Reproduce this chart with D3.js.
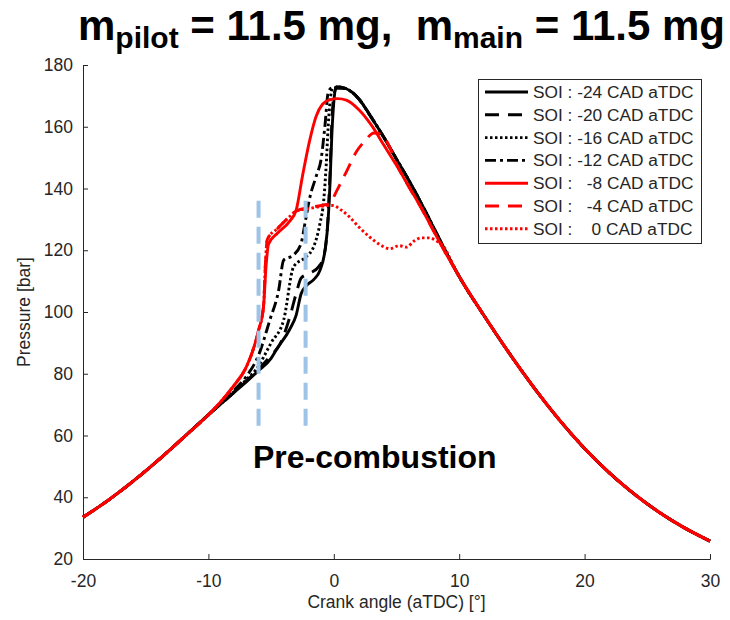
<!DOCTYPE html>
<html>
<head>
<meta charset="utf-8">
<script src="https://cdn.jsdelivr.net/npm/d3@7"></script>
<style>
  body { margin: 0; background: #fff; }
  svg text { font-family: "Liberation Sans", Arial, sans-serif; }
</style>
</head>
<body>
<svg id="chart" width="730" height="620"></svg>
<script>
// Shared compression and expansion parts (all injection timings coincide there)
const compAngle = [-20, -18, -16, -14, -12, -10];
const compP = [33.5, 39.0, 45.2, 52.0, 59.3, 66.7];
const expAngle = [10, 12, 14, 16, 18, 20, 22, 24, 26, 28, 30];
const expP = [111.5, 98.7, 86.6, 75.3, 65.0, 55.8, 47.8, 40.9, 35.0, 30.0, 25.8];

// Black tail after the peak, shared by the four black curves
const blackTailAngle = [1, 2, 3, 4, 5, 6, 7, 8, 9];
const blackTailP = [172.3, 169, 163, 156.5, 149.5, 142.5, 135, 127, 119];

// Combustion region per start of injection
const soi24Angle = [-9, -8, -7, -6, -5, -4.5, -3.5, -3, -2.6, -2.2, -1.6, -1.1, -0.7, -0.45, -0.3, -0.15, 0, 0.2];
const soi24P = [70.2, 73.8, 77.3, 81, 85, 88.3, 94.5, 99, 106, 108.5, 110.5, 113.5, 120, 130, 142, 158, 168, 173];

const soi20Angle = [-9, -8, -7, -6, -5, -4.3, -3.5, -3, -2.6, -1.9, -1.2, -0.8, -0.5, -0.3, -0.15, 0, 0.2];
const soi20P = [70.2, 73.8, 77.5, 81.5, 86, 89.5, 98.5, 106, 111, 112.6, 114.7, 118, 128, 145, 162, 170, 172.5];

const soi16Angle = [-9, -8, -7, -6, -5.6, -5, -4, -3.2, -2.2, -1.6, -1.1, -0.8, -0.6, -0.45, -0.3, -0.1, 0.5];
const soi16P = [70.3, 74, 78, 82.5, 85.4, 90, 97.4, 114.7, 117.9, 121.2, 128.7, 136.3, 148, 160, 168, 172.5, 172.8];

const soi12Angle = [-9, -8, -7, -6, -5.1, -4.4, -4, -3.2, -2.6, -2.3, -1.9, -1.4, -1, -0.7, -0.45, -0.2, 0.5];
const soi12P = [70.5, 74.5, 79, 86, 97.4, 107, 116.8, 118.5, 122.3, 128.7, 137.3, 144, 149.8, 160.6, 171, 172.5, 172.8];

const soi8Angle = [-9, -8, -7, -6.5, -6, -5.6, -5.4, -5.2, -4.5, -3.5, -3, -2.5, -1.9, -1.4, -0.9, -0.3, 0.3, 1, 2, 3, 4, 5, 6, 7, 8, 9];
const soi8P = [71, 76, 82, 87, 94, 102, 115, 122, 125.5, 129.5, 133, 144, 156, 163.5, 167.3, 168.8, 169.1, 168.6, 165.5, 160.5, 154, 147.5, 140.5, 133.5, 126, 118.5];

const soi4Angle = [-9, -8, -7, -6.5, -6, -5.6, -5.45, -5.3, -4.5, -3.5, -3, -2, -1, -0.3, 0.2, 1, 1.8, 2.5, 3.2, 3.8, 4.5, 5, 6, 7, 8, 9];
const soi4P = [71, 76, 82, 87, 94, 102, 116, 123.5, 127, 131, 132.7, 133.8, 134.5, 135.2, 139, 145.4, 151.9, 155.5, 158, 157.5, 153, 148, 140.5, 133.5, 126, 118.5];

const soi0Angle = [-9, -8, -7, -6.5, -6, -5.6, -5.45, -5.3, -4.5, -3.5, -3, -2, -1, -0.1, 0.6, 1.2, 2, 2.8, 3.6, 4.5, 5.2, 5.8, 6.4, 7, 7.6, 8.2, 8.8, 9.3];
const soi0P = [71, 76, 82, 87, 94, 102, 116, 123.5, 127, 131, 132.7, 133.5, 134.2, 134.5, 133, 131, 127.5, 124.5, 122, 120.5, 121.5, 121, 123, 124, 124, 123, 121, 117];

const seriesLabels = ['SOI : -24 CAD aTDC', 'SOI : -20 CAD aTDC', 'SOI : -16 CAD aTDC', 'SOI : -12 CAD aTDC',
	'SOI :   -8 CAD aTDC', 'SOI :   -4 CAD aTDC', 'SOI :    0 CAD aTDC'];

// Pre-combustion window markers
const preCombAngle = [-6, -2.25];
const preCombRange = [62.5, 136];

const xTicks = [-20, -10, 0, 10, 20, 30];
const yTicks = [20, 40, 60, 80, 100, 120, 140, 160, 180];

// Build the series (colour + dash per series)
const join = (a, p) => a.map((v, i) => [v, p[i]]);
const head = join(compAngle, compP);
const tail = join(expAngle, expP);
const blackTail = join(blackTailAngle, blackTailP);

const series = [
	{ pts: head.concat(join(soi24Angle, soi24P), blackTail, tail), color: '#000', dash: null },
	{ pts: head.concat(join(soi20Angle, soi20P), blackTail, tail), color: '#000', dash: '14,9' },
	{ pts: head.concat(join(soi16Angle, soi16P), blackTail, tail), color: '#000', dash: '2.5,2.5' },
	{ pts: head.concat(join(soi12Angle, soi12P), blackTail, tail), color: '#000', dash: '11,4,3,4' },
	{ pts: head.concat(join(soi8Angle, soi8P), tail), color: '#ff0000', dash: null },
	{ pts: head.concat(join(soi4Angle, soi4P), tail), color: '#ff0000', dash: '14,9' },
	{ pts: head.concat(join(soi0Angle, soi0P), tail), color: '#ff0000', dash: '2.5,2.5' }
];
series.forEach((s, i) => s.label = seriesLabels[i]);

const svg = d3.select('#chart');

const x = d3.scaleLinear().domain([-20, 30]).range([83, 710]);
const y = d3.scaleLinear().domain([20, 180]).range([559, 65]);

// Title
const title = svg.append('text')
	.attr('x', 78)
	.attr('y', 40)
	.style('font-size', '42px')
	.style('font-weight', 'bold')
	.attr('fill', '#000');
title.append('tspan').text('m');
title.append('tspan').attr('dy', 8).style('font-size', '30px').text('pilot');
title.append('tspan').attr('dy', -8).style('white-space', 'pre').text(' = 11.5 mg,  m');
title.append('tspan').attr('dy', 8).style('font-size', '30px').text('main');
title.append('tspan').attr('dy', -8).style('white-space', 'pre').text(' = 11.5 mg');

// Axes (inward ticks, plain hyphen minus like the original)
const xAxis = svg.append('g')
	.attr('transform', 'translate(0,' + y(20) + ')')
	.call(d3.axisBottom(x).tickValues(xTicks).tickFormat(d => String(d)).tickSize(-5).tickPadding(12));
const yAxis = svg.append('g')
	.attr('transform', 'translate(' + x(-20) + ',0)')
	.call(d3.axisLeft(y).tickValues(yTicks).tickFormat(d => String(d)).tickSize(-5).tickPadding(10));

[xAxis, yAxis].forEach(g => {
	g.select('.domain').attr('stroke', '#262626');
	g.selectAll('.tick line').attr('stroke', '#262626');
	g.selectAll('.tick text')
		.attr('fill', '#262626')
		.style('font-size', '17.5px')
		.style('font-family', '"Liberation Sans", Arial, sans-serif');
});
xAxis.selectAll('.tick text').attr('dy', '0.9em');

svg.append('text')
	.attr('x', (x(-20) + x(30)) / 2)
	.attr('y', 608)
	.attr('text-anchor', 'middle')
	.attr('fill', '#262626')
	.style('font-size', '17.5px')
	.text('Crank angle (aTDC) [°]');

svg.append('text')
	.attr('transform', 'translate(30,' + ((y(20) + y(180)) / 2) + ') rotate(-90)')
	.attr('text-anchor', 'middle')
	.attr('fill', '#262626')
	.style('font-size', '17.5px')
	.text('Pressure [bar]');

// Pressure curves
const line = d3.line()
	.x(d => x(d[0]))
	.y(d => y(d[1]))
	.curve(d3.curveMonotoneX);

svg.append('g')
	.selectAll('path')
	.data(series)
	.join('path')
	.attr('d', d => line(d.pts))
	.attr('fill', 'none')
	.attr('stroke', d => d.color)
	.attr('stroke-width', 2.9)
	.attr('stroke-dasharray', d => d.dash);

// Pre-combustion markers
svg.append('g')
	.selectAll('line')
	.data(preCombAngle)
	.join('line')
	.attr('x1', d => x(d))
	.attr('x2', d => x(d))
	.attr('y1', y(preCombRange[1]))
	.attr('y2', y(preCombRange[0]))
	.attr('stroke', '#9dc3e6')
	.attr('stroke-width', 4)
	.attr('stroke-dasharray', '17,9');

svg.append('text')
	.attr('x', 253)
	.attr('y', 468)
	.style('font-size', '32px')
	.style('font-weight', 'bold')
	.attr('fill', '#000')
	.text('Pre-combustion');

// Legend
const legend = svg.append('g');
legend.append('rect')
	.attr('x', 478.5)
	.attr('y', 79.5)
	.attr('width', 223)
	.attr('height', 164)
	.attr('fill', '#fff')
	.attr('stroke', '#262626')
	.attr('stroke-width', 1);

const rows = legend.selectAll('g.row')
	.data(series)
	.join('g')
	.attr('class', 'row')
	.attr('transform', (d, i) => 'translate(0,' + (92 + i * 22.8) + ')');

rows.append('line')
	.attr('x1', 485)
	.attr('x2', 528)
	.attr('stroke', d => d.color)
	.attr('stroke-width', 2.9)
	.attr('stroke-dasharray', d => d.dash);

rows.append('text')
	.attr('x', 533)
	.attr('y', 6)
	.attr('fill', '#262626')
	.style('font-size', '17.3px')
	.style('white-space', 'pre')
	.text(d => d.label);
</script>
</body>
</html>
